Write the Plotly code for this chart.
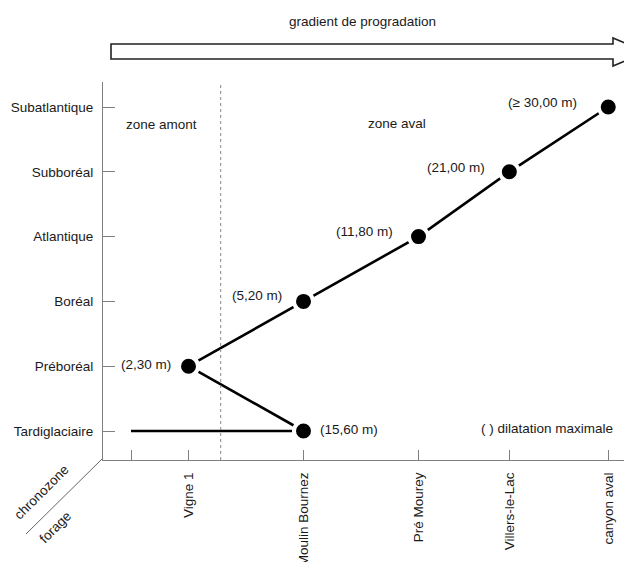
import plotly.graph_objects as go

# ---- data ----
chronozones = ["Tardiglaciaire", "Préboréal", "Boréal", "Atlantique", "Subboréal", "Subatlantique"]
forages = ["", "Vigne 1", "Moulin Bournez", "Pré Mourey", "Villers-le-Lac", "canyon aval"]
forage_pos = [0, 0.5, 1.5, 2.5, 3.29, 4.15]
zone_boundary = 0.78

path_forage = ["", "Moulin Bournez", "Vigne 1", "Moulin Bournez", "Pré Mourey", "Villers-le-Lac", "canyon aval"]
path_chrono = ["Tardiglaciaire", "Tardiglaciaire", "Préboréal", "Boréal", "Atlantique", "Subboréal", "Subatlantique"]
dilatation = [None, "(15,60 m)", "(2,30 m)", "(5,20 m)", "(11,80 m)", "(21,00 m)", "(≥ 30,00 m)"]
show_marker = [False, True, True, True, True, True, True]

# ---- geometry (screen pixels; page body has an 8px margin) ----
OFF = 8
W, H = 632, 562
SCR_L, SCR_R, SCR_T, SCR_B = 103, 632, 82, 460   # plot area on screen
L = SCR_L - OFF
T = SCR_T - OFF
R = W - (SCR_R - OFF)
B = H - (SCR_B - OFF)
PW, PH = W - L - R, H - T - B


def px(xs_):
    return (xs_ - OFF - L) / PW


def py(ys_):
    return (H - B - (ys_ - OFF)) / PH


FONT = "Liberation Sans, Arial, sans-serif"
TXT = "#1a1a1a"
AX = "#808080"
fs = 13.5

xs = [forage_pos[forages.index(f)] for f in path_forage]
ys = [chronozones.index(c) for c in path_chrono]

fig = go.Figure()
fig.add_trace(go.Scatter(
    x=xs, y=ys, mode="lines",
    line=dict(color="black", width=2.6),
    hoverinfo="skip", showlegend=False,
))
mx = [x for x, s in zip(xs, show_marker) if s]
my = [y for y, s in zip(ys, show_marker) if s]
fig.add_trace(go.Scatter(
    x=mx, y=my, mode="markers",
    marker=dict(color="black", size=19, line=dict(color="white", width=4)),
    hoverinfo="skip", showlegend=False,
))

annotations = []
shifts = {
    "(15,60 m)": ("left", 14, 2),
    "(2,30 m)": ("right", -16, 2),
    "(5,20 m)": ("right", -20, 6),
    "(11,80 m)": ("right", -24, 5),
    "(21,00 m)": ("right", -22, 4),
    "(≥ 30,00 m)": ("right", -29, 5),
}
for x, y, lab in zip(xs, ys, dilatation):
    if lab is None:
        continue
    anc, dx, dy = shifts[lab]
    annotations.append(dict(x=x, y=y, xref="x", yref="y", text=lab, showarrow=False,
                            xanchor=anc, yanchor="middle", xshift=dx, yshift=dy,
                            font=dict(family=FONT, size=fs, color=TXT)))


def note(xp, yp, text, angle=0):
    return dict(x=px(xp), y=py(yp), xref="paper", yref="paper", text=text, textangle=angle,
                showarrow=False, xanchor="center", yanchor="middle",
                font=dict(family=FONT, size=fs, color=TXT))


annotations += [
    note(362, 22, "gradient de progradation"),
    note(161, 125, "zone amont"),
    note(397, 123, "zone aval"),
    note(547, 428, "( ) dilatation maximale"),
    note(41, 492, "chronozone", -45),
    note(55, 527, "forage", -45),
]

arrow = [(111, 44), (613, 44), (613, 38), (646, 52), (613, 66), (613, 59), (111, 59)]
arrow_path = "M " + " L ".join(f"{px(a):.5f},{py(b):.5f}" for a, b in arrow) + " Z"

shapes = [
    dict(type="path", xref="paper", yref="paper", path=arrow_path,
         line=dict(color="#222", width=1.6), fillcolor="white"),
    dict(type="line", xref="x", yref="paper", x0=zone_boundary, x1=zone_boundary, y0=0, y1=1,
         line=dict(color="#888", width=1, dash="dot")),
    dict(type="line", xref="paper", yref="paper", x0=px(102), y0=py(459), x1=px(26), y1=py(534),
         line=dict(color="#666", width=1)),
]

x0 = (SCR_L - 131) / 115
x1 = (SCR_R - 131) / 115
y0 = -(SCR_B - 431) / 64.8
y1 = 5 + (107 - SCR_T) / 64.8

fig.update_layout(
    width=W, height=H,
    margin=dict(l=L, r=R, t=T, b=B, pad=0),
    paper_bgcolor="white", plot_bgcolor="white",
    showlegend=False,
    annotations=annotations,
    shapes=shapes,
    xaxis=dict(range=[x0, x1], tickmode="array", tickvals=forage_pos, ticktext=forages,
               tickangle=-90, ticks="inside", ticklen=10, tickcolor=AX, tickwidth=1,
               showline=True, linecolor=AX, linewidth=1, showgrid=False, zeroline=False,
               ticklabelstandoff=6, automargin=False,
               tickfont=dict(family=FONT, size=fs, color=TXT), fixedrange=True),
    yaxis=dict(range=[y0, y1], tickmode="array", tickvals=list(range(len(chronozones))),
               ticktext=chronozones, ticks="inside", ticklen=12, tickcolor=AX, tickwidth=1,
               showline=True, linecolor=AX, linewidth=1, showgrid=False, zeroline=False,
               ticklabelstandoff=6, automargin=False,
               tickfont=dict(family=FONT, size=fs, color=TXT), fixedrange=True),
)

fig.write_html("out.html")
